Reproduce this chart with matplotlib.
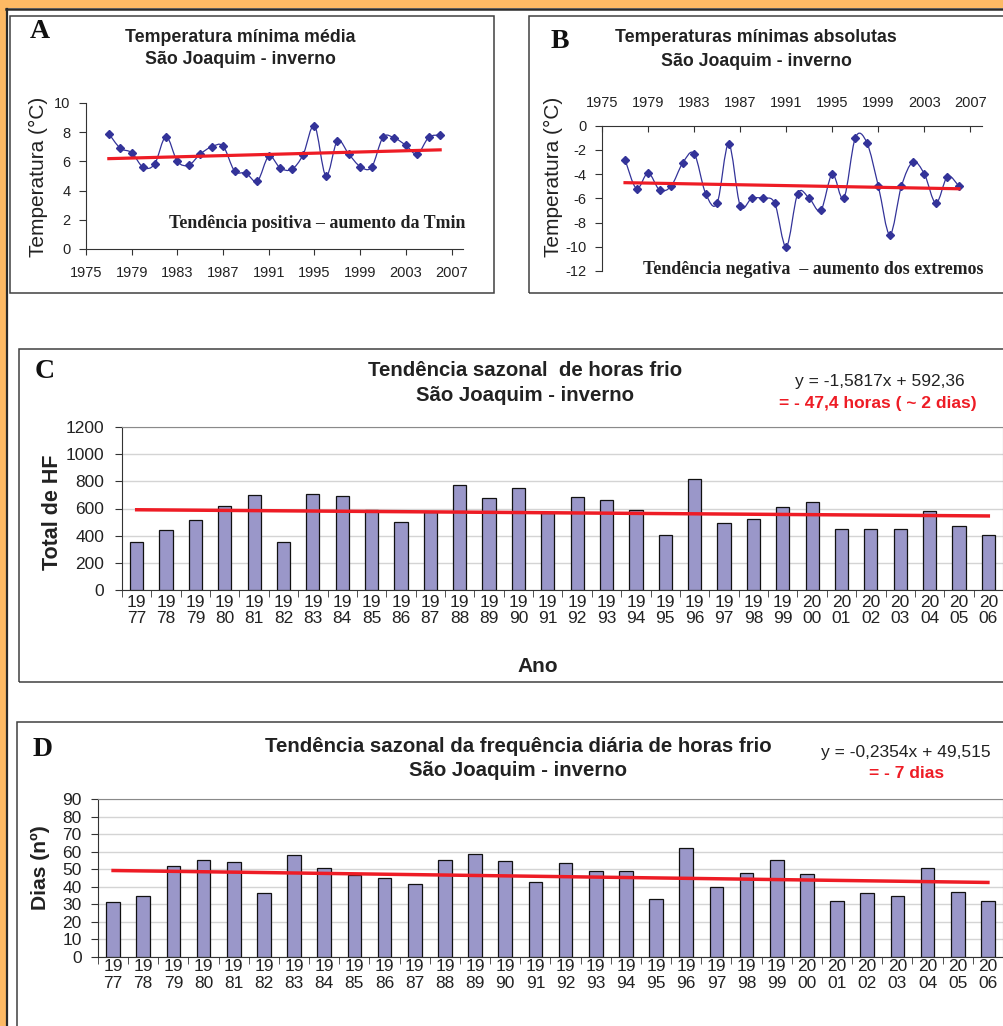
import numpy as np
import matplotlib
matplotlib.use("Agg")
import matplotlib.pyplot as plt
from matplotlib.patches import Rectangle, PathPatch
from matplotlib.path import Path
from matplotlib.lines import Line2D

plt.rcParams['font.family'] = ['Liberation Sans', 'DejaVu Sans']
plt.rcParams['axes.unicode_minus'] = False

# ---- data -------------------------------------------------------------------
anos = list(range(1977, 2007))

tmin_media = [7.9, 6.9, 6.6, 5.6, 5.8, 7.7, 6.0, 5.75, 6.5, 7.0,
              7.05, 5.35, 5.2, 4.65, 6.35, 5.55, 5.45, 6.45, 8.45, 5.0,
              7.4, 6.5, 5.65, 5.6, 7.65, 7.6, 7.1, 6.5, 7.65, 7.8]

tmin_abs = [-2.8, -5.2, -3.9, -5.3, -5.0, -3.1, -2.3, -5.6, -6.4, -1.5,
            -6.6, -6.0, -6.0, -6.4, -10.0, -5.6, -6.0, -7.0, -4.0, -6.0,
            -1.0, -1.4, -5.0, -9.0, -5.0, -3.0, -4.0, -6.4, -4.2, -5.0]

horas_frio = [350, 440, 515, 620, 700, 350, 710, 690, 590, 500,
              575, 770, 675, 755, 570, 685, 660, 590, 405, 820,
              495, 525, 610, 650, 445, 450, 445, 580, 470, 405]

dias_frio = [31.5, 34.5, 52, 55.5, 54, 36.5, 58, 51, 47, 45,
             41.5, 55.5, 59, 55, 42.5, 53.5, 49, 49, 33, 62,
             40, 48, 55.5, 47.5, 32, 36.5, 34.5, 51, 37, 32]

# trend equations printed on the charts
hf_coef = (-1.5817, 592.36)
dias_coef = (-0.2354, 49.515)

ano_labels = [f"{str(a)[:2]}\n{str(a)[2:]}" for a in anos]

# ---- style --------------------------------------------------------------------
W, H = 1004, 1026
ORANGE = '#fdb964'
FRAME = '#404040'
BLUE = '#333399'
RED = '#ee1c25'
BAR = '#9a97c9'
TXT = '#222222'


def fx(x):
    return x / W


def fy(y):
    return 1 - y / H


def ax_px(left, top, right, bottom):
    return [fx(left), fy(bottom), (right - left) / W, (bottom - top) / H]


def smooth_path(x, y):
    # excel-like smoothed line (catmull-rom as cubic beziers)
    pts = np.column_stack([x, y]).astype(float)
    n = len(pts)
    verts = [pts[0]]
    codes = [Path.MOVETO]
    for i in range(n - 1):
        p0 = pts[i - 1] if i > 0 else pts[i]
        p1, p2 = pts[i], pts[i + 1]
        p3 = pts[i + 2] if i + 2 < n else pts[i + 1]
        c1 = p1 + (p2 - p0) / 6
        c2 = p2 - (p3 - p1) / 6
        verts += [c1, c2, p2]
        codes += [Path.CURVE4] * 3
    return Path(verts, codes)


fig = plt.figure(figsize=(W / 100, H / 100), dpi=100)
fig.patch.set_facecolor('white')

# orange border + dark edge
fig.add_artist(Rectangle((0, 0), fx(6), 1, transform=fig.transFigure,
                         color=ORANGE, lw=0))
fig.add_artist(Rectangle((0, fy(8)), 1, 8 / H, transform=fig.transFigure,
                         color=ORANGE, lw=0))
fig.add_artist(Line2D([fx(6.5), fx(6.5)], [0, fy(8.5)], transform=fig.transFigure,
                      color='#2a2a2a', lw=1.6))
fig.add_artist(Line2D([fx(6), 1], [fy(8.5), fy(8.5)], transform=fig.transFigure,
                      color='#2a2a2a', lw=1.8))

# panel frames
for (l, t, r, b) in [(10, 16, 494, 293), (529, 16, 1010, 293),
                     (19, 349, 1010, 682), (17, 722, 1010, 1040)]:
    fig.add_artist(Rectangle((fx(l), fy(b)), (r - l) / W, (b - t) / H,
                             transform=fig.transFigure, fill=False,
                             ec=FRAME, lw=1.1))


def letter(x, y, s):
    fig.text(fx(x), fy(y), s, family='Liberation Serif', weight='bold',
             fontsize=20, ha='center', va='center', color='#111111')


def title(x, y, lines, size, step):
    for i, s in enumerate(lines):
        fig.text(fx(x), fy(y + i * step), s, weight='bold', fontsize=size,
                 ha='center', va='center', color=TXT)


# ---- A : temperatura minima media -------------------------------------------
axA = fig.add_axes(ax_px(86, 103, 463, 249))
axA.add_patch(PathPatch(smooth_path(anos, tmin_media), fill=False,
                        ec=BLUE, lw=0.9))
axA.plot(anos, tmin_media, ls='none', marker='D', ms=4, color=BLUE)
ka = np.polyfit(anos, tmin_media, 1)
axA.plot([anos[0], anos[-1]], np.polyval(ka, [anos[0], anos[-1]]),
         color=RED, lw=2.3)
axA.set_xlim(1975, 2008)
axA.set_ylim(0, 10)
axA.set_xticks(range(1975, 2008, 4))
axA.set_yticks(range(0, 11, 2))
for s in ['top', 'right']:
    axA.spines[s].set_visible(False)
for s in ['left', 'bottom']:
    axA.spines[s].set_color('#333333')
axA.tick_params(axis='x', direction='out', length=4.5, pad=8, labelsize=10.5,
                colors='#333333', labelcolor=TXT)
axA.tick_params(axis='y', direction='out', length=5, pad=6, labelsize=10.5,
                colors='#333333', labelcolor=TXT)
axA.patch.set_alpha(0)

letter(40, 31, 'A')
title(240, 37, ['Temperatura mínima média', 'São Joaquim - inverno'], 12.8, 23)
fig.text(fx(38), fy(177), 'Temperatura (°C)', rotation=90, fontsize=15,
         ha='center', va='center', color=TXT)
fig.text(fx(317), fy(223), 'Tendência positiva – aumento da Tmin',
         family='Liberation Serif', weight='bold', fontsize=12.9,
         ha='center', va='center', color=TXT)

# ---- B : temperaturas minimas absolutas ----------------------------------------
axB = fig.add_axes(ax_px(602, 125.7, 982, 271))
axB.add_patch(PathPatch(smooth_path(anos, tmin_abs), fill=False,
                        ec=BLUE, lw=0.9))
axB.plot(anos, tmin_abs, ls='none', marker='D', ms=4, color=BLUE)
kb = np.polyfit(anos, tmin_abs, 1)
axB.plot([anos[0], anos[-1]], np.polyval(kb, [anos[0], anos[-1]]),
         color=RED, lw=2.3)
axB.set_xlim(1975, 2008)
axB.set_ylim(-12, 0)
axB.set_xticks(range(1975, 2008, 4))
axB.set_yticks(range(-12, 1, 2))
axB.xaxis.tick_top()
for s in ['bottom', 'right']:
    axB.spines[s].set_visible(False)
for s in ['left', 'top']:
    axB.spines[s].set_color('#333333')
axB.tick_params(axis='x', direction='in', length=4.5, pad=11.5, labelsize=10.5,
                colors='#333333', labelcolor=TXT)
axB.tick_params(axis='y', direction='out', length=5, pad=6, labelsize=10.5,
                colors='#333333', labelcolor=TXT)
axB.patch.set_alpha(0)

letter(560, 41, 'B')
title(756, 38, ['Temperaturas mínimas absolutas', 'São Joaquim - inverno'], 12.8, 23)
fig.text(fx(553), fy(177), 'Temperatura (°C)', rotation=90, fontsize=15,
         ha='center', va='center', color=TXT)
fig.text(fx(813), fy(269), 'Tendência negativa  – aumento dos extremos',
         family='Liberation Serif', weight='bold', fontsize=12.9,
         ha='center', va='center', color=TXT)


# ---- C and D : bar charts ---------------------------------------------------------
def bar_panel(rect, values, coef, ymax, ystep, ypad, xpad):
    ax = fig.add_axes(rect)
    idx = np.arange(1, len(values) + 1)
    ax.bar(idx, values, width=0.45, color=BAR, edgecolor='#111111', lw=0.9,
           zorder=3)
    ax.plot([idx[0], idx[-1]], [coef[0] * idx[0] + coef[1],
                                coef[0] * idx[-1] + coef[1]],
            color=RED, lw=2.5, zorder=4)
    ax.set_xlim(0.5, len(values) + 0.5)
    ax.set_ylim(0, ymax)
    ax.set_yticks(np.arange(0, ymax + 1, ystep))
    ax.set_xticks(idx)
    ax.set_xticklabels(ano_labels, linespacing=1.1)
    ax.set_xticks(np.arange(0.5, len(values) + 1), minor=True)
    ax.grid(axis='y', color='#d4d4d4', lw=1.0, zorder=0)
    for s in ['top', 'right']:
        ax.spines[s].set_color('#8a8a8a')
    for s in ['left', 'bottom']:
        ax.spines[s].set_color('#333333')
    ax.tick_params(axis='x', which='major', length=0, pad=xpad, labelsize=12.5,
                   labelcolor=TXT)
    ax.tick_params(axis='x', which='minor', direction='out', length=4.8,
                   color='#333333')
    ax.tick_params(axis='y', direction='out', length=4.8, pad=ypad,
                   labelsize=12.5, colors='#333333', labelcolor=TXT)
    return ax


axC = bar_panel(ax_px(122, 427.3, 1003, 589.7), horas_frio, hf_coef,
                1200, 200, 8, 3.5)
letter(45, 372, 'C')
title(525, 370, ['Tendência sazonal  de horas frio', 'São Joaquim - inverno'],
      14.7, 25)
fig.text(fx(880), fy(382), 'y = -1,5817x + 592,36', fontsize=12.5,
         ha='center', va='center', color=TXT)
fig.text(fx(878), fy(403), '= - 47,4 horas ( ~ 2 dias)', fontsize=12.5,
         weight='bold', ha='center', va='center', color=RED)
fig.text(fx(52), fy(512), 'Total de HF', rotation=90, fontsize=15.5,
         weight='bold', ha='center', va='center', color=TXT)
fig.text(fx(538), fy(667), 'Ano', fontsize=15, weight='bold',
         ha='center', va='center', color=TXT)

axD = bar_panel(ax_px(98, 799.3, 1003, 956.7), dias_frio, dias_coef,
                90, 10, 7, 2)
letter(43, 749, 'D')
title(518, 746, ['Tendência sazonal da frequência diária de horas frio',
                 'São Joaquim - inverno'], 14.7, 25)
fig.text(fx(906), fy(752), 'y = -0,2354x + 49,515', fontsize=12.5,
         ha='center', va='center', color=TXT)
fig.text(fx(907), fy(773), '= - 7 dias', fontsize=12.5,
         weight='bold', ha='center', va='center', color=RED)
fig.text(fx(40), fy(868), 'Dias (nº)', rotation=90, fontsize=15.2,
         weight='bold', ha='center', va='center', color=TXT)

fig.savefig('out.png', dpi=100)
